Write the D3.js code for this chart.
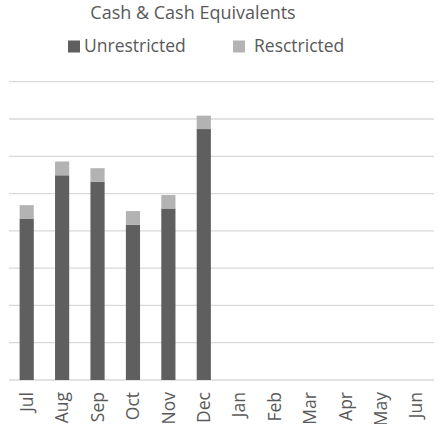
<!DOCTYPE html>
<html>
<head>
<meta charset="utf-8">
<script src="https://cdn.jsdelivr.net/npm/d3@7"></script>
<style>
  body { margin: 0; background: #fff; }
  svg { display: block; }
</style>
</head>
<body>
<div id="chart"></div>
<script>
// months of the fiscal year
const months = ["Jul", "Aug", "Sep", "Oct", "Nov", "Dec", "Jan", "Feb", "Mar", "Apr", "May", "Jun"];
// values (gridline units)
const unrestricted = [4.33, 5.49, 5.32, 4.16, 4.60, 6.73, null, null, null, null, null, null];
const restricted = [0.36, 0.37, 0.36, 0.37, 0.36, 0.36, null, null, null, null, null, null];
const gridTicks = [0, 1, 2, 3, 4, 5, 6, 7, 8];

const width = 439, height = 424;
const plotLeft = 9, plotRight = 434, plotTop = 81.7, plotBottom = 380;
const font = "'Open Sans', sans-serif";

const svg = d3.select("#chart").append("svg")
    .attr("width", width)
    .attr("height", height);

const x = d3.scaleBand()
    .domain(months)
    .range([plotLeft, plotRight])
    .paddingInner(0.6)
    .paddingOuter(0.3);

const y = d3.scaleLinear()
    .domain([0, 8])
    .range([plotBottom, plotTop]);

// gridlines
svg.append("g")
    .selectAll("line")
    .data(gridTicks)
    .join("line")
    .attr("x1", plotLeft)
    .attr("x2", plotRight)
    .attr("y1", d => y(d))
    .attr("y2", d => y(d))
    .attr("stroke", "#d9d9d9")
    .attr("stroke-width", 1.3);

const data = months.map((m, i) => ({ month: m, u: unrestricted[i], r: restricted[i] }))
    .filter(d => d.u != null);

// unrestricted part
svg.append("g")
    .selectAll("rect")
    .data(data)
    .join("rect")
    .attr("x", d => x(d.month))
    .attr("width", x.bandwidth())
    .attr("y", d => y(d.u))
    .attr("height", d => y(0) - y(d.u))
    .attr("fill", "#5f5f5f");

// restricted part stacked on top
svg.append("g")
    .selectAll("rect")
    .data(data)
    .join("rect")
    .attr("x", d => x(d.month))
    .attr("width", x.bandwidth())
    .attr("y", d => y(d.u + d.r))
    .attr("height", d => y(d.u) - y(d.u + d.r))
    .attr("fill", "#b3b3b3");

// month labels, rotated
svg.append("g")
    .selectAll("text")
    .data(months)
    .join("text")
    .attr("transform", d => `translate(${x(d) + x.bandwidth() / 2},392) rotate(-90)`)
    .attr("text-anchor", "end")
    .attr("dy", "0.35em")
    .attr("font-family", font)
    .attr("font-size", "17.5px")
    .attr("fill", "#595959")
    .text(d => d);

// title
svg.append("text")
    .attr("x", 193)
    .attr("y", 19)
    .attr("text-anchor", "middle")
    .attr("font-family", font)
    .attr("font-size", "18px")
    .attr("fill", "#595959")
    .text("Cash & Cash Equivalents");

// legend
const legend = [
    { name: "Unrestricted", color: "#5f5f5f", x: 68, tx: 84 },
    { name: "Resctricted", color: "#b3b3b3", x: 233, tx: 254 }
];
const lg = svg.append("g").selectAll("g").data(legend).join("g");
lg.append("rect")
    .attr("x", d => d.x)
    .attr("y", 40.5)
    .attr("width", 12)
    .attr("height", 12)
    .attr("fill", d => d.color);
lg.append("text")
    .attr("x", d => d.tx)
    .attr("y", 52)
    .attr("font-family", font)
    .attr("font-size", "17.5px")
    .attr("fill", "#595959")
    .text(d => d.name);
</script>
</body>
</html>
